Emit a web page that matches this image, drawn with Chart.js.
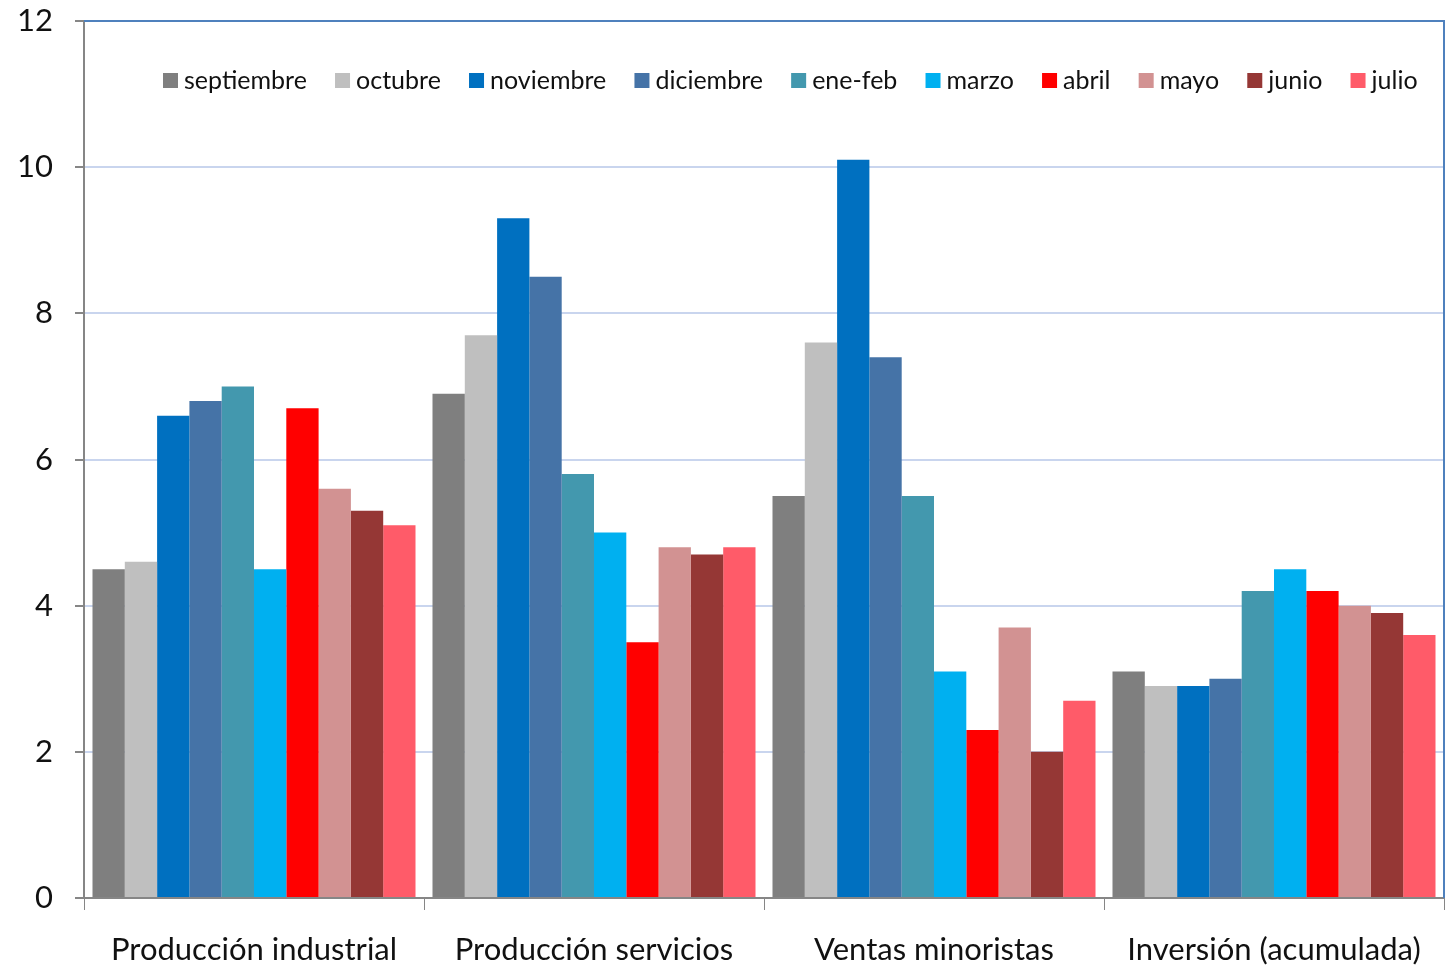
<!DOCTYPE html>
<html>
<head>
<meta charset="utf-8">
<script src="https://cdn.jsdelivr.net/npm/chart.js@4"></script>
<style>
  html, body { margin: 0; padding: 0; background: #ffffff; }
  #wrap { width: 1452px; height: 967px; position: relative; }
</style>
</head>
<body>
<div id="wrap"><canvas id="c" width="1452" height="967"></canvas></div>
<script>
const categories = ['Producción industrial', 'Producción servicios', 'Ventas minoristas', 'Inversión (acumulada)'];
const seriesNames = ['septiembre', 'octubre', 'noviembre', 'diciembre', 'ene-feb', 'marzo', 'abril', 'mayo', 'junio', 'julio'];
const septiembre = [4.5, 6.9, 5.5, 3.1];
const octubre    = [4.6, 7.7, 7.6, 2.9];
const noviembre  = [6.6, 9.3, 10.1, 2.9];
const diciembre  = [6.8, 8.5, 7.4, 3.0];
const eneFeb     = [7.0, 5.8, 5.5, 4.2];
const marzo      = [4.5, 5.0, 3.1, 4.5];
const abril      = [6.7, 3.5, 2.3, 4.2];
const mayo       = [5.6, 4.8, 3.7, 4.0];
const junio      = [5.3, 4.7, 2.0, 3.9];
const julio      = [5.1, 4.8, 2.7, 3.6];
const yTicks = [0, 2, 4, 6, 8, 10, 12];

const seriesValues = [septiembre, octubre, noviembre, diciembre, eneFeb, marzo, abril, mayo, junio, julio];
const colors = ['#7F7F7F', '#BFBFBF', '#0070C0', '#4573A7', '#4398AE', '#00B0F0', '#FF0000', '#D29292', '#953735', '#FF5B69'];

const FONT = 'Lato, "Noto Sans", sans-serif';

const borderPlugin = {
  id: 'plotBorder',
  afterDraw(chart) {
    const a = chart.chartArea, ctx = chart.ctx;
    ctx.save();
    ctx.strokeStyle = '#4F81BD';
    ctx.lineWidth = 2;
    ctx.beginPath();
    ctx.moveTo(a.left, a.top);
    ctx.lineTo(a.right, a.top);
    ctx.lineTo(a.right, a.bottom);
    ctx.stroke();
    ctx.restore();
  }
};

const legendPlugin = {
  id: 'innerLegend',
  afterDraw(chart) {
    const a = chart.chartArea, ctx = chart.ctx;
    ctx.save();
    ctx.font = '25px ' + FONT;
    ctx.textBaseline = 'middle';
    ctx.textAlign = 'left';
    const y = 81;
    let x = a.left + 79;
    chart.data.datasets.forEach((ds) => {
      ctx.fillStyle = ds.backgroundColor;
      ctx.fillRect(x, y - 8, 15, 15);
      ctx.fillStyle = '#111';
      ctx.fillText(ds.label, x + 21, y);
      x += 21 + ctx.measureText(ds.label).width + 28.2;
    });
    ctx.restore();
  }
};

new Chart(document.getElementById('c'), {
  type: 'bar',
  data: {
    labels: categories,
    datasets: seriesNames.map((n, i) => ({
      label: n,
      data: seriesValues[i],
      backgroundColor: colors[i],
      borderWidth: 0,
      categoryPercentage: 0.95,
      barPercentage: 1.0
    }))
  },
  options: {
    responsive: false,
    animation: false,
    layout: { padding: { left: 18, right: 8, top: 21, bottom: 0 } },
    plugins: {
      tooltip: { enabled: false },
      legend: { display: false }
    },
    scales: {
      x: {
        afterFit(scale) { scale.height = 69; scale.paddingLeft = 0; scale.paddingRight = 0; },
        grid: {
          display: true,
          drawOnChartArea: false,
          drawTicks: true,
          tickLength: 12,
          tickColor: '#868686',
          offset: true
        },
        border: { display: true, color: '#868686', width: 2 },
        ticks: {
          font: { family: FONT, size: 31 },
          color: '#111',
          padding: 21,
          maxRotation: 0
        }
      },
      y: {
        min: 0,
        max: 12,
        afterBuildTicks(scale) { scale.ticks = yTicks.map(v => ({ value: v })); },
        afterFit(scale) { scale.width = 66; scale.paddingTop = 0; scale.paddingBottom = 0; },
        grid: {
          color: (ctx) => (ctx.tick && ctx.tick.value === 12) ? '#4F81BD' : '#C9D5EE',
          lineWidth: 2,
          tickLength: 9,
          tickColor: '#868686'
        },
        border: { display: true, color: '#868686', width: 2 },
        ticks: {
          font: { family: FONT, size: 31 },
          color: '#111',
          padding: 22
        }
      }
    }
  },
  plugins: [borderPlugin, legendPlugin]
});
</script>
</body>
</html>
